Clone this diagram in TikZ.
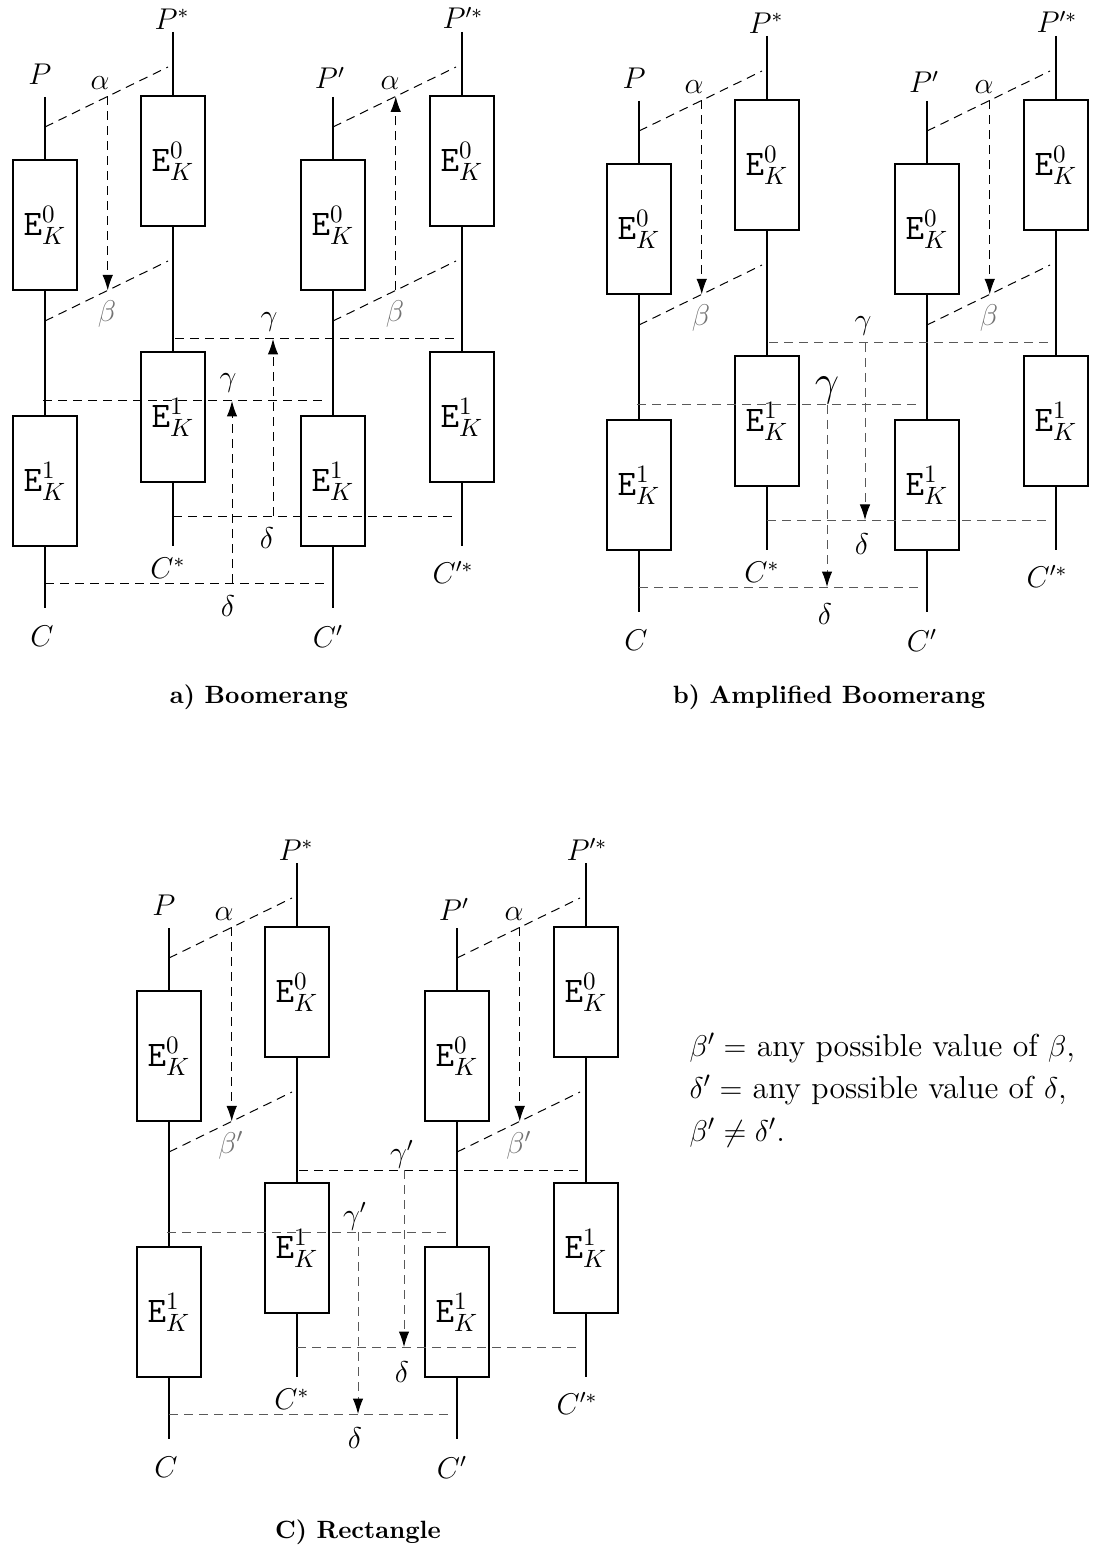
\documentclass[tikz,border=0pt]{standalone}
\usetikzlibrary{arrows.meta,calc}
\tikzset{
  wire/.style={line width=0.55pt},
  enc/.style={draw, line width=1.1pt, minimum width=25.6pt, minimum height=52pt, inner sep=0pt, font=\Large},
  dsh/.style={line width=0.4pt, dash pattern=on 3.6pt off 2.4pt},
  dshg/.style={dsh, draw=black!65},
  arr/.style={-{Latex[length=6.2pt,width=4.2pt,color=black]}},
  lbl/.style={inner sep=0pt, font=\large},
  glbl/.style={lbl, text=black!55},
  capt/.style={font=\bfseries, inner sep=0pt}
}
\newcommand\tcolumn[6]{%
  \coordinate (#1t) at (#2,#3);
  \node[enc] (#1e0) at (#2,#4) {$\mathtt{E}^0_K$};
  \node[enc] (#1e1) at (#2,#5) {$\mathtt{E}^1_K$};
  \coordinate (#1b) at (#2,#6);
  \draw[wire] (#1t) -- (#1e0) (#1e0) -- (#1e1) (#1e1) -- (#1b);
}
\newcommand\skeleton{%
  \tcolumn{A}{45}{97}{225}{481}{608}
  \tcolumn{B}{173}{32}{161}{417}{546}
  \tcolumn{C}{333}{97}{225}{481}{608}
  \tcolumn{D}{462}{32}{161}{417}{546}
  \coordinate (a1) at (45,127);  \coordinate (a2) at (168,67);
  \coordinate (b1) at (45,321);  \coordinate (b2) at (168,261);
  \coordinate (a3) at (333,127); \coordinate (a4) at (456,67);
  \coordinate (b3) at (333,321); \coordinate (b4) at (456,261);
  \coordinate (gu1) at (175,339); \coordinate (gu2) at (456,339);
  \coordinate (gl1) at (43,401);  \coordinate (gl2) at (325,401);
  \coordinate (du1) at (173,516); \coordinate (du2) at (453,516);
  \coordinate (dl1) at (45,583);  \coordinate (dl2) at (328,583);
  \draw[dsh] (a1) -- (a2);
  \draw[dsh] (b1) -- (b2);
  \draw[dsh] (a3) -- (a4);
  \draw[dsh] (b3) -- (b4);
  \coordinate (m1) at ($(a1)!0.51!(a2)$);
  \coordinate (n1) at ($(b1)!0.51!(b2)$);
  \coordinate (m2) at ($(a3)!0.51!(a4)$);
  \coordinate (n2) at ($(b3)!0.51!(b4)$);
  \node[lbl] (lP) at (40,74) {$P$};
  \node[lbl] (lPs) at (172,19) {$P^*$};
  \node[lbl] (lPp) at (330,78) {$P'$};
  \node[lbl] (lPps) at (463,18) {$P'^*$};
  \node[lbl] (lC) at (42,636) {$C$};
  \node[lbl] (lCs) at (168,568) {$C^*$};
  \node[lbl] (lCp) at (328,636) {$C'$};
  \node[lbl] (lCps) at (453,572) {$C'^*$};
  \node[lbl] (lal1) at (100,83) {$\alpha$};
  \node[lbl] (lal2) at (390,83) {$\alpha$};
}
\begin{document}
\begin{tikzpicture}[x=0.4pt, y=-0.4pt]
\path[use as bounding box] (0,0) rectangle (1092,1550);

% ---------------- a) Boomerang
\begin{scope}[name prefix=pa-]
  \skeleton
  \draw[dsh] (gu1) -- (gu2);
  \draw[dsh] (gl1) -- (gl2);
  \draw[dsh] (du1) -- (du2);
  \draw[dsh] (dl1) -- (dl2);
  \draw[dsh,arr] (m1) -- (n1);
  \draw[dsh,arr] (n2) -- (m2);
  \coordinate (ux) at (273,0);
  \coordinate (lx) at (232,0);
  \draw[dsh,arr] (ux |- du1) -- (ux |- gu1);
  \draw[dsh,arr] (lx |- dl1) -- (lx |- gl1);
  \node[glbl] (lbe1) at (107,314) {$\beta$};
  \node[glbl] (lbe2) at (395,314) {$\beta$};
  \node[lbl] (lgu) at (269,322) {$\gamma$};
  \node[lbl] (ldu) at (267,538) {$\delta$};
  \node[lbl] (lgl) at (228,383) {$\gamma$};
  \node[lbl] (ldl) at (228,606) {$\delta$};
  \node[capt] (cap) at (259,697) {a) Boomerang};
\end{scope}

% ---------------- b) Amplified Boomerang
\begin{scope}[shift={(594,4)}, name prefix=pb-]
  \skeleton
  \draw[dshg] (gu1) -- (gu2);
  \draw[dshg] (gl1) -- (gl2);
  \draw[dshg] (du1) -- (du2);
  \draw[dshg] (dl1) -- (dl2);
  \draw[dsh,arr] (m1) -- (n1);
  \draw[dsh,arr] (m2) -- (n2);
  \coordinate (ux) at (271,0);
  \coordinate (lx) at (233,0);
  \draw[dshg,arr] (ux |- gu1) -- (ux |- du1);
  \draw[dshg,arr] (lx |- gl1) -- (lx |- dl1);
  \node[glbl] (lbe1) at (107,314) {$\beta$};
  \node[glbl] (lbe2) at (395,314) {$\beta$};
  \node[lbl] (lgu) at (269,322) {$\gamma$};
  \node[lbl] (ldu) at (268,540) {$\delta$};
  \node[lbl, font=\LARGE] (lgl) at (233,386) {$\gamma$};
  \node[lbl] (ldl) at (231,610) {$\delta$};
  \node[capt] (cap) at (235,693) {b) Amplified Boomerang};
\end{scope}

% ---------------- C) Rectangle
\begin{scope}[shift={(124,831)}, name prefix=pc-]
  \skeleton
  \draw[dsh] (gu1) -- (gu2);
  \draw[dshg] (gl1) -- (gl2);
  \draw[dshg] (du1) -- (du2);
  \draw[dshg] (dl1) -- (dl2);
  \draw[dsh,arr] (m1) -- (n1);
  \draw[dsh,arr] (m2) -- (n2);
  \coordinate (ux) at (280,0);
  \coordinate (lx) at (234,0);
  \draw[dshg,arr] (ux |- gu1) -- (ux |- du1);
  \draw[dshg,arr] (lx |- gl1) -- (lx |- dl1);
  \node[glbl] (lbe1) at (107,314) {$\beta'$};
  \node[glbl] (lbe2) at (395,314) {$\beta'$};
  \node[lbl] (lgu) at (278,323) {$\gamma'$};
  \node[lbl] (ldu) at (278,541) {$\delta$};
  \node[lbl] (lgl) at (231,385) {$\gamma'$};
  \node[lbl] (ldl) at (231,607) {$\delta$};
  \node[capt] (cap) at (234,701) {C) Rectangle};
\end{scope}

\node[anchor=west, align=left, inner sep=0pt, font=\fontsize{12.7}{15}\selectfont] (note) at (689,1090)
  {$\beta' =$ any possible value of $\beta$,\\[2pt]
   $\delta' =$ any possible value of $\delta$,\\[2pt]
   $\beta' \neq \delta'$.};
\end{tikzpicture}
\end{document}
